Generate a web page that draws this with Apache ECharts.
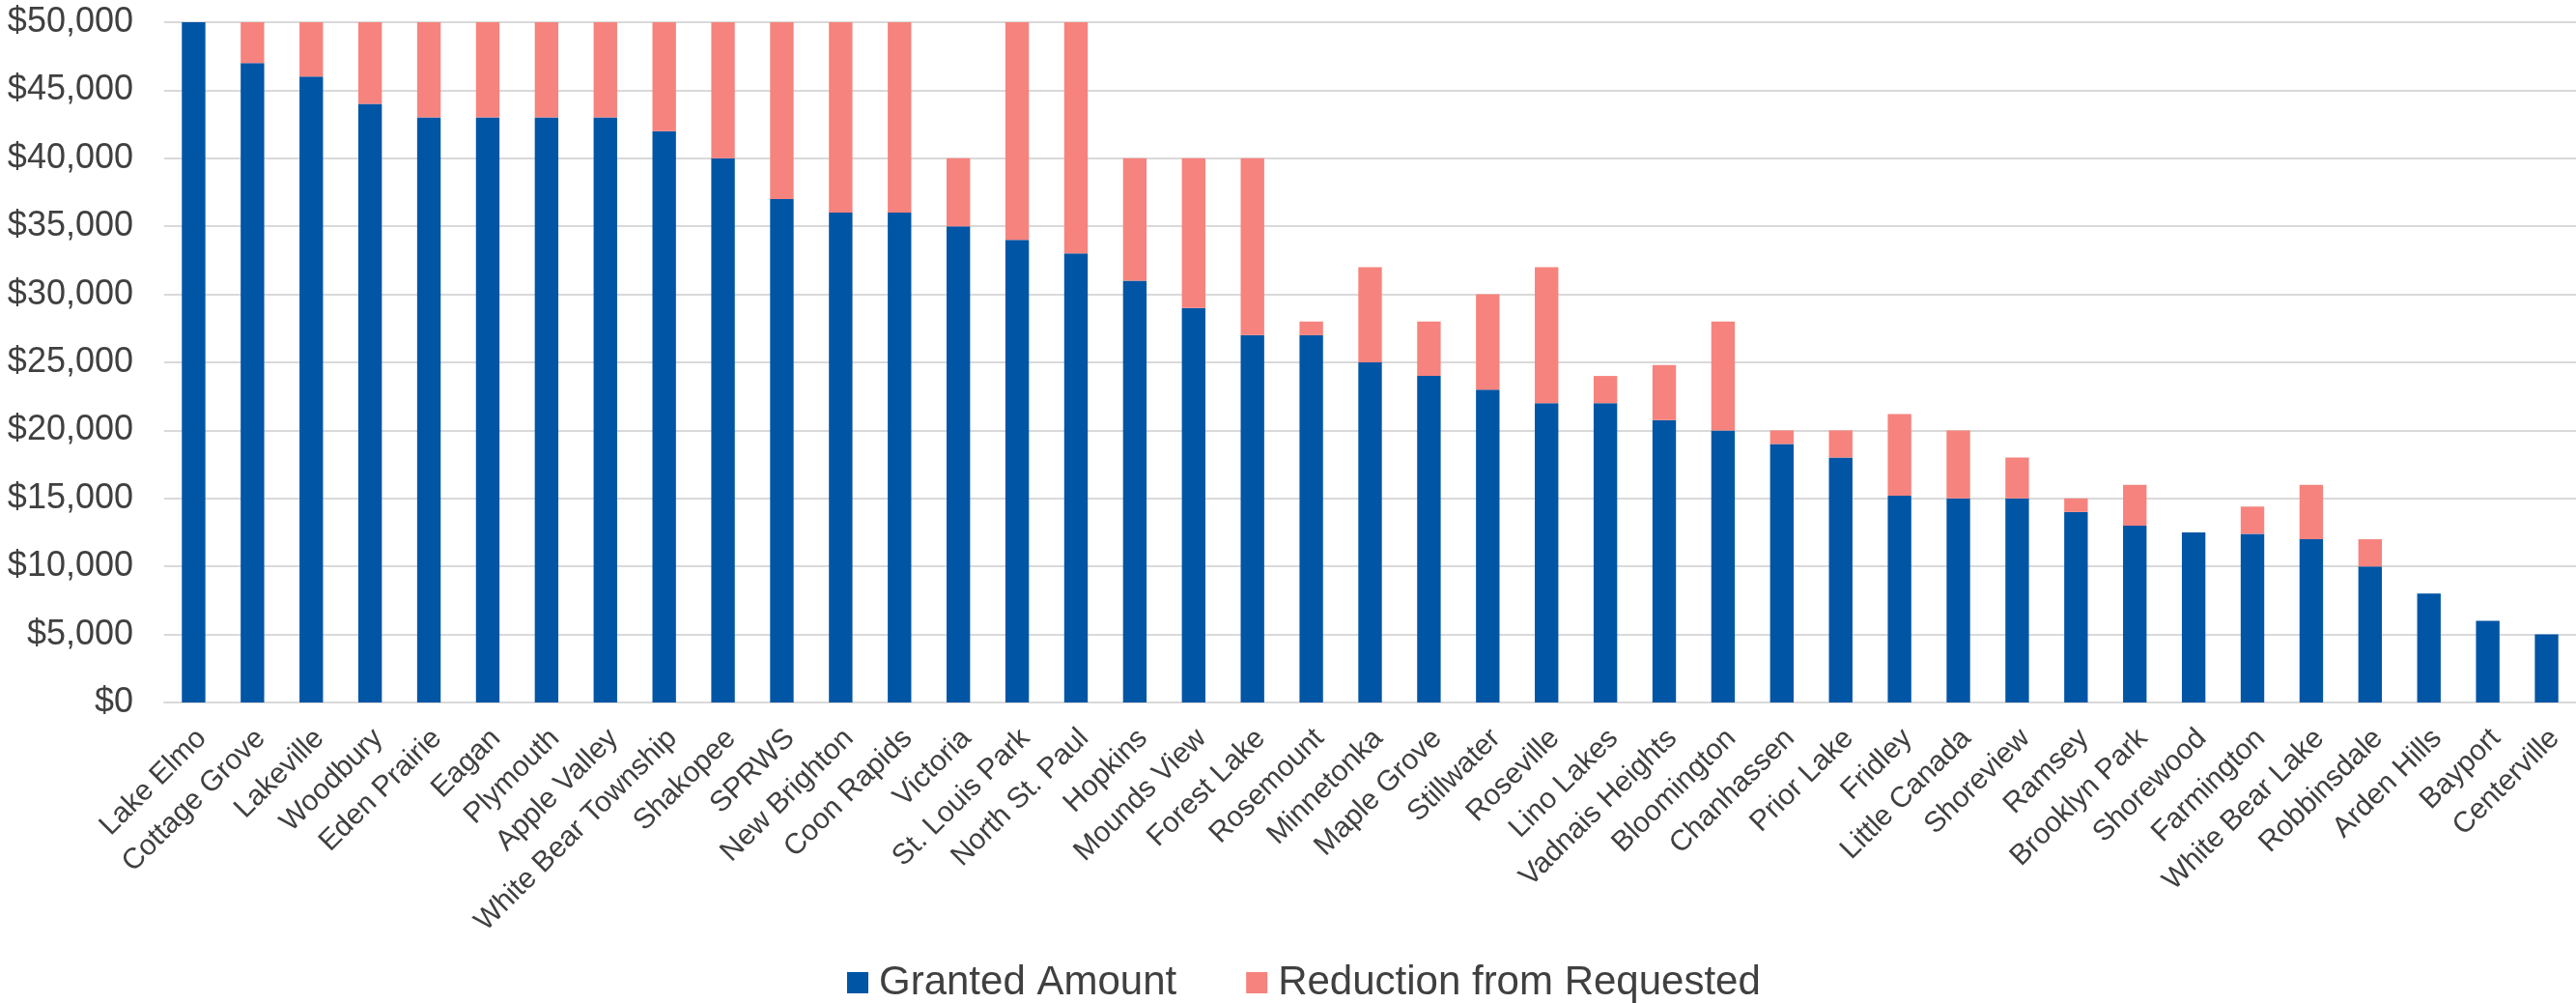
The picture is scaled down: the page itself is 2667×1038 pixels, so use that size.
<!DOCTYPE html>
<html>
<head>
<meta charset="utf-8">
<script src="https://cdn.jsdelivr.net/npm/echarts@6/dist/echarts.min.js"></script>
<style>
html,body{margin:0;padding:0;background:#fff;}
#chart{width:2667px;height:1038px;}
</style>
</head>
<body>
<div id="chart"></div>
<script>
const categories = ["Lake Elmo","Cottage Grove","Lakeville","Woodbury","Eden Prairie","Eagan","Plymouth","Apple Valley","White Bear Township","Shakopee","SPRWS","New Brighton","Coon Rapids","Victoria","St. Louis Park","North St. Paul","Hopkins","Mounds View","Forest Lake","Rosemount","Minnetonka","Maple Grove","Stillwater","Roseville","Lino Lakes","Vadnais Heights","Bloomington","Chanhassen","Prior Lake","Fridley","Little Canada","Shoreview","Ramsey","Brooklyn Park","Shorewood","Farmington","White Bear Lake","Robbinsdale","Arden Hills","Bayport","Centerville"];
const granted = [50000,47000,46000,44000,43000,43000,43000,43000,42000,40000,37000,36000,36000,35000,34000,33000,31000,29000,27000,27000,25000,24000,23000,22000,22000,20750,20000,19000,18000,15200,15000,15000,14000,13000,12500,12400,12000,10000,8000,6000,5000];
const reduction = [0,3000,4000,6000,7000,7000,7000,7000,8000,10000,13000,14000,14000,5000,16000,17000,9000,11000,13000,1000,7000,4000,7000,10000,2000,4050,8000,1000,2000,6000,5000,3000,1000,3000,0,2000,4000,2000,0,0,0];
const yTicks = {min:0, max:50000, interval:5000};

const chart = echarts.init(document.getElementById('chart'), null, {renderer:'canvas'});
const font = 'Liberation Sans, Arial, sans-serif';
chart.setOption({
  animation:false,
  backgroundColor:'#ffffff',
  textStyle:{fontFamily:font},
  grid:{left:170, right:0, top:23, bottom:311, containLabel:false},
  legend:{
    data:['Granted Amount','Reduction from Requested'],
    left:872, top:990,
    itemWidth:22, itemHeight:22, itemGap:72,
    icon:'rect',
    textStyle:{fontFamily:font, fontSize:42, color:'#404040', lineHeight:44, padding:[0,0,0,6]}
  },
  xAxis:{
    type:'category',
    data:categories,
    axisTick:{show:false},
    axisLine:{show:true, lineStyle:{color:'#D9D9D9', width:2}},
    axisLabel:{rotate:45, interval:0, margin:24, align:'right', verticalAlign:'top', lineHeight:24,
      fontFamily:font, fontSize:30, color:'#404040'}
  },
  yAxis:{
    type:'value',
    min:yTicks.min, max:yTicks.max, interval:yTicks.interval,
    axisLine:{show:false}, axisTick:{show:false},
    splitLine:{show:true, lineStyle:{color:'#D9D9D9', width:2}},
    axisLabel:{margin:32, fontFamily:font, fontSize:36, color:'#404040',
      formatter:function(v){return '$'+v.toLocaleString('en-US');}}
  },
  series:[
    {name:'Granted Amount', type:'bar', stack:'total', data:granted, barWidth:'40%',
     itemStyle:{color:'#0055A5'}},
    {name:'Reduction from Requested', type:'bar', stack:'total', data:reduction, barWidth:'40%',
     itemStyle:{color:'#F6837D'}}
  ]
});
</script>
</body>
</html>
